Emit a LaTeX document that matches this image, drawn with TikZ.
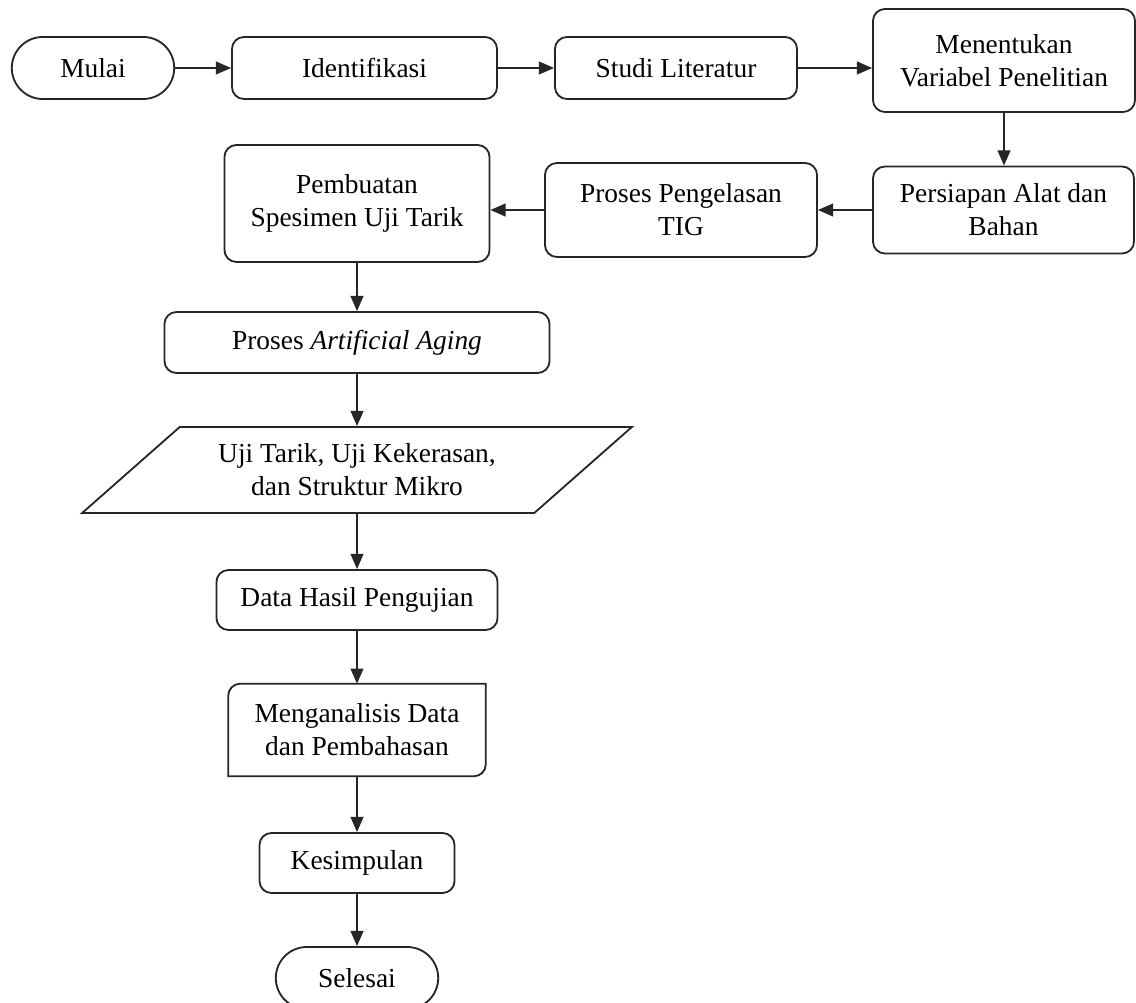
\documentclass[tikz,border=0pt]{standalone}
\usepackage{fontspec}
\setmainfont{Liberation Serif}
\usetikzlibrary{arrows.meta,shapes.misc,shapes.geometric}

\tikzset{
  box/.style={draw=black!85,line width=1.3pt,rounded corners=0.3cm,align=center,inner sep=2pt},
  term/.style={draw=black!85,line width=1.3pt,rounded rectangle,inner sep=2pt},
  flow/.style={draw=black!85,line width=1.3pt,-{Triangle[length=0.38cm,width=0.32cm]}},
}

\begin{document}
\begin{tikzpicture}[x=0.025cm,y=-0.025cm,font=\fontsize{19.5}{23.5}\selectfont]
\useasboundingbox (0,0) rectangle (1136,1003);
\node[term,minimum width=4.2cm,minimum height=1.55cm] (mulai) at (93,68) {Mulai};
\node[box,minimum width=6.625cm,minimum height=1.55cm] (ident) at (364.5,68) {Identifikasi};
\node[box,minimum width=6.05cm,minimum height=1.55cm] (studi) at (676,68) {Studi Literatur};
\node[box,minimum width=6.55cm,minimum height=2.575cm] (ment) at (1004,60.5) {Menentukan\\Variabel Penelitian};
\node[box,minimum width=6.525cm,minimum height=2.175cm] (pers) at (1003.5,210) {Persiapan Alat dan\\Bahan};
\node[box,minimum width=6.8cm,minimum height=2.35cm] (tig) at (681,210) {Proses Pengelasan\\TIG};
\node[box,minimum width=6.625cm,minimum height=2.925cm] (spes) at (357,203.5) {Pembuatan\\Spesimen Uji Tarik};
\node[box,minimum width=9.625cm,minimum height=1.525cm] (aging) at (357,342.5) {Proses \textit{Artificial Aging}};
\node[draw=black!85,line width=1.3pt,trapezium,trapezium left angle=38,trapezium right angle=142,
  trapezium stretches=true,minimum width=13.75cm,minimum height=2.15cm,align=center] (uji) at (357,470)
  {Uji Tarik, Uji Kekerasan,\\dan Struktur Mikro};
\node[box,minimum width=7.025cm,minimum height=1.5cm] (data) at (357,600) {Data Hasil Pengujian};
\node[minimum width=6.425cm,minimum height=2.3cm,align=center] (ana) at (357,730) {Menganalisis Data\\dan Pembahasan};
\draw[draw=black!85,line width=1.3pt] (ana.south west) -- ([yshift=-0.3cm]ana.north west)
  arc[start angle=180,end angle=90,radius=0.3cm] -- (ana.north east)
  -- ([yshift=0.3cm]ana.south east) arc[start angle=0,end angle=-90,radius=0.3cm] -- cycle;
\node[box,minimum width=4.875cm,minimum height=1.5cm] (kes) at (357,863) {Kesimpulan};
\node[term,minimum width=4.2cm,minimum height=1.55cm] (sel) at (357,978) {Selesai};

% alur
\draw[flow] (mulai) -- (ident);
\draw[flow] (ident) -- (studi);
\draw[flow] (studi) -- (studi -| ment.west);
\draw[flow] (ment) -- (ment |- pers.north);
\draw[flow] (pers) -- (pers -| tig.east);
\draw[flow] (tig) -- (tig -| spes.east);
\draw[flow] (spes) -- (aging);
\draw[flow] (aging) -- (uji);
\draw[flow] (uji) -- (data);
\draw[flow] (data) -- (ana);
\draw[flow] (ana) -- (kes);
\draw[flow] (kes) -- (sel);
\end{tikzpicture}
\end{document}
